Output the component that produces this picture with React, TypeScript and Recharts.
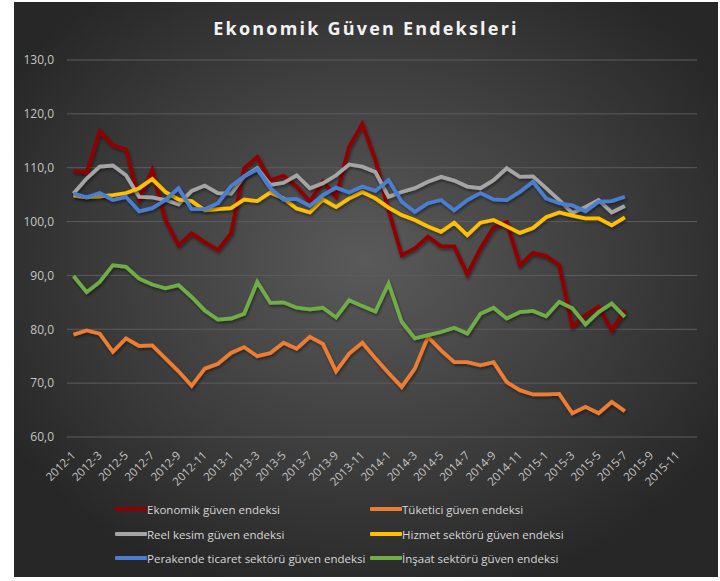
import React from 'react';
import { LineChart, Line, XAxis, YAxis, CartesianGrid, Legend } from 'recharts';

const years = [2012, 2013, 2014, 2015];
const months = years.flatMap((y) => Array.from({ length: 12 }, (_, i) => `${y}-${i + 1}`));

const ekonomik = [109.4, 109.1, 116.8, 114.2, 113.4, 104.0, 109.6, 100.3, 95.6, 97.8, 96.2, 94.7, 97.8, 109.9, 112.0, 107.7, 108.5, 106.5, 103.7, 107.4, 104.6, 113.9, 118.1, 111.4, 102.1, 93.8, 95.0, 97.2, 95.4, 95.4, 90.2, 95.0, 98.9, 99.9, 91.9, 94.2, 93.6, 91.9, 80.5, 82.6, 84.2, 79.8, 83.6];
const tuketici = [79.0, 79.8, 79.2, 75.8, 78.3, 76.9, 77.0, 74.6, 72.2, 69.5, 72.7, 73.6, 75.6, 76.7, 75.0, 75.6, 77.5, 76.4, 78.6, 77.3, 72.2, 75.5, 77.5, 74.6, 71.9, 69.3, 72.7, 78.6, 76.1, 73.9, 73.9, 73.3, 73.9, 70.2, 68.7, 67.9, 67.9, 68.0, 64.4, 65.6, 64.4, 66.5, 64.8];
const reel = [105.2, 108.0, 110.2, 110.4, 108.6, 104.6, 104.5, 104.0, 103.2, 105.7, 106.7, 105.3, 105.2, 108.4, 109.9, 106.8, 107.2, 108.6, 106.2, 107.1, 108.6, 110.6, 110.2, 109.2, 104.6, 105.5, 106.2, 107.4, 108.3, 107.6, 106.5, 106.2, 107.7, 109.9, 108.3, 108.4, 106.2, 104.0, 101.6, 102.7, 104.0, 101.7, 102.9];
const hizmet = [104.8, 104.5, 104.7, 104.9, 105.3, 106.2, 107.9, 105.5, 104.1, 103.8, 102.1, 102.3, 102.5, 104.1, 103.8, 105.4, 104.3, 102.4, 101.7, 104.1, 102.7, 104.3, 105.5, 104.3, 102.6, 101.2, 100.3, 99.1, 98.1, 99.8, 97.5, 99.8, 100.3, 99.1, 97.9, 98.8, 100.8, 101.7, 101.1, 100.6, 100.6, 99.3, 100.8];
const perakende = [105.2, 104.5, 105.3, 104.0, 104.6, 101.9, 102.5, 104.0, 106.2, 102.3, 102.3, 103.4, 106.6, 108.4, 109.7, 106.2, 104.1, 104.2, 102.9, 104.9, 106.3, 105.4, 106.5, 105.7, 107.7, 103.7, 101.8, 103.4, 104.0, 102.1, 104.0, 105.3, 104.1, 104.0, 105.5, 107.4, 104.3, 103.4, 103.0, 101.9, 103.7, 103.8, 104.6];
const insaat = [89.9, 86.9, 88.8, 91.9, 91.6, 89.4, 88.3, 87.6, 88.2, 86.0, 83.5, 81.8, 82.0, 82.9, 88.8, 84.9, 85.0, 84.0, 83.7, 84.0, 82.2, 85.4, 84.3, 83.3, 88.5, 81.4, 78.3, 78.9, 79.5, 80.3, 79.2, 82.9, 84.0, 82.0, 83.2, 83.4, 82.4, 85.1, 83.9, 80.9, 83.2, 84.8, 82.3];

const yTicks = [60, 70, 80, 90, 100, 110, 120, 130];

const series = [
  { key: 'ekonomik', name: 'Ekonomik güven endeksi', color: '#900000', values: ekonomik },
  { key: 'tuketici', name: 'Tüketici güven endeksi', color: '#ED7D31', values: tuketici },
  { key: 'reel', name: 'Reel kesim güven endeksi', color: '#A5A5A5', values: reel },
  { key: 'hizmet', name: 'Hizmet sektörü güven endeksi', color: '#FFC000', values: hizmet },
  { key: 'perakende', name: 'Perakende ticaret sektörü güven endeksi', color: '#4A7ED0', values: perakende },
  { key: 'insaat', name: 'İnşaat sektörü güven endeksi', color: '#70AD47', values: insaat },
];

const data = months.map((m, i) => {
  const row: Record<string, any> = { month: m };
  series.forEach((s) => {
    row[s.key] = i < s.values.length ? s.values[i] : null;
  });
  return row;
});

const W = 704;
const H = 575;

const XTick = (props: any) => {
  const { x, y, payload } = props;
  const ax = x + 3;
  const ay = y + 11;
  return (
    <text
      x={ax}
      y={ay}
      transform={`rotate(-45, ${ax}, ${ay})`}
      textAnchor="end"
      fill="#c4c4c4"
      fontSize={11.5}
      fontFamily="'Open Sans', sans-serif"
    >
      {payload.value}
    </text>
  );
};

const LegendContent = () => {
  const cols = [101, 356];
  const rows = [12, 37, 61];
  return (
    <div style={{ position: 'relative', width: W, height: 80 }}>
      {series.map((s, i) => (
        <div
          key={s.key}
          style={{
            position: 'absolute',
            left: cols[i % 2],
            top: rows[Math.floor(i / 2)] - 9,
            height: 18,
            display: 'flex',
            alignItems: 'center',
            whiteSpace: 'nowrap',
          }}
        >
          <div style={{ width: 32, height: 4, background: s.color, borderRadius: 1 }} />
          <span
            style={{
              color: '#d6d6d6',
              fontSize: 11.5,
              fontFamily: "'Open Sans', sans-serif",
            }}
          >
            {s.name}
          </span>
        </div>
      ))}
    </div>
  );
};

export default function App() {
  return (
    <div
      style={{
        position: 'absolute',
        left: 14,
        top: 2,
        width: W,
        height: H,
        background: 'radial-gradient(ellipse 60% 60% at 50% 45%, #5a5a5a 0%, #3c3c3c 60%, #272727 100%)',
      }}
    >
      <div
        style={{
          position: 'absolute',
          left: 0,
          top: 14,
          width: W,
          textAlign: 'center',
          color: '#f2f2f2',
          fontFamily: "'Open Sans', sans-serif",
          fontWeight: 700,
          fontSize: 18,
          letterSpacing: 2.2,
          lineHeight: '24px',
        }}
      >
        Ekonomik Güven Endeksleri
      </div>
      <LineChart width={W} height={H} data={data} margin={{ top: 58, right: 21, bottom: 0, left: 0 }}>
        <defs>
          <filter id="lineShadow" x="-5%" y="-5%" width="110%" height="120%">
            <feDropShadow dx="1" dy="2" stdDeviation="1.5" floodColor="#000" floodOpacity="0.45" />
          </filter>
        </defs>
        <CartesianGrid vertical={false} stroke="#5c5c5c" strokeWidth={1} />
        <XAxis
          dataKey="month"
          interval={1}
          tick={<XTick />}
          tickLine={false}
          axisLine={false}
          height={60}
          padding={{ left: 6.5, right: 6.5 }}
        />
        <YAxis
          domain={[60, 130]}
          ticks={yTicks}
          width={53}
          tickLine={false}
          axisLine={false}
          tickMargin={7}
          tick={{ fill: '#c4c4c4', fontSize: 12, fontFamily: "'Open Sans', sans-serif" }}
          tickFormatter={(v: number) => v.toFixed(1).replace('.', ',')}
        />
        {series.map((s) => (
          <Line
            key={s.key}
            type="linear"
            dataKey={s.key}
            name={s.name}
            stroke={s.color}
            strokeWidth={3.8}
            dot={false}
            activeDot={false}
            isAnimationActive={false}
            connectNulls={false}
            filter="url(#lineShadow)"
          />
        ))}
        <Legend
          verticalAlign="bottom"
          content={<LegendContent />}
          wrapperStyle={{ left: 0, top: 495, width: W, height: 80 }}
        />
      </LineChart>
    </div>
  );
}
